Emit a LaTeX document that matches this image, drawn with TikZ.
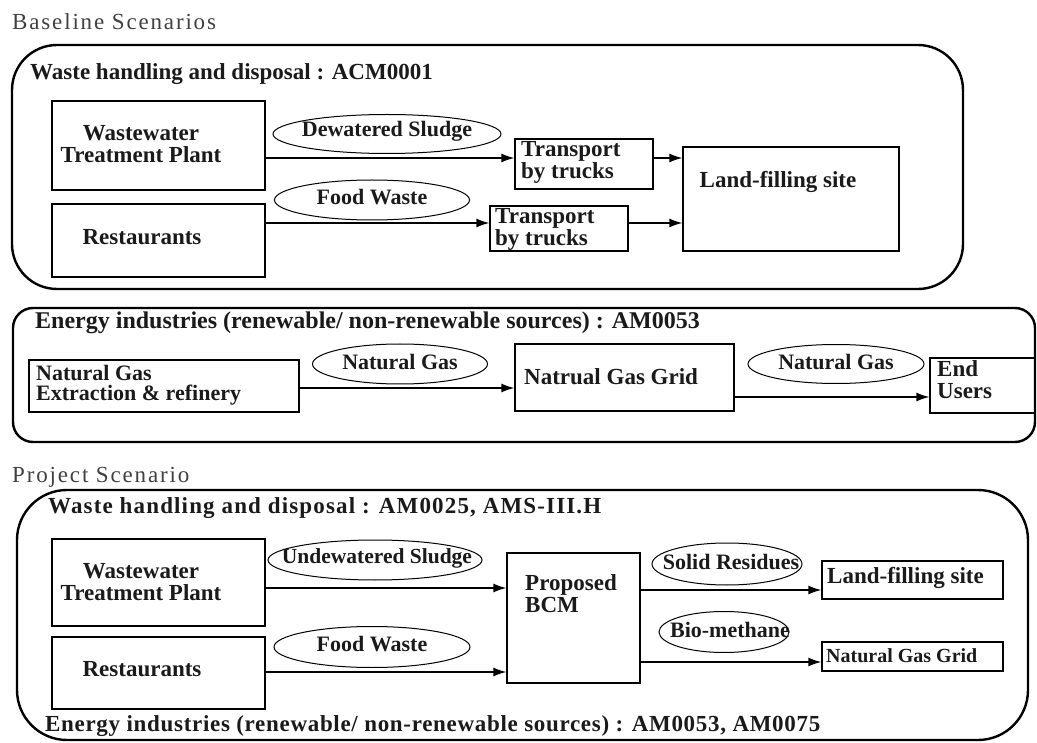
\documentclass[tikz,border=0pt]{standalone}
\usepackage{fontspec}
\setmainfont{Liberation Serif}
\usetikzlibrary{shapes.geometric,arrows.meta}

\definecolor{ink}{HTML}{1A1A1A}
\definecolor{grau}{HTML}{404040}

\tikzset{
  frame/.style={line width=2.4pt, rounded corners=#1},
  box/.style={draw, rectangle, line width=1.3pt, inner sep=0pt},
  flow/.style={draw, ellipse, line width=1pt, inner sep=0pt},
  txt/.style={inner sep=0pt, text=ink, font=\fontsize{23}{22}\selectfont\bfseries},
  lbl/.style={inner sep=0pt, text=ink, font=\fontsize{22}{22}\selectfont\bfseries},
  head/.style={txt, anchor=west},
  titel/.style={inner sep=0pt, anchor=west, text=grau,
    font=\fontsize{23}{24}\selectfont\addfontfeature{LetterSpace=8}},
  arr/.style={-{Latex[length=13pt,width=9pt]}, line width=1.3pt}
}

\begin{document}
\begin{tikzpicture}[x=1pt,y=-1pt]
\useasboundingbox (0,0) rectangle (1037,743);

% Baseline:
\node[titel] (tBase) at (12,22) {Baseline Scenarios};
\draw[frame=45pt] (12,45) rectangle (963,289); % erster Rahmen
\draw[frame=20pt] (13,308) rectangle (1035,442); % zweiter Rahmen

% Abfall:
\node[head] (hA) at (30,74) {Waste handling and disposal : ACM0001};
\node[box, minimum width=213pt, minimum height=89pt] (wtpA) at (158.5,145.5) {};
\node[txt, align=center] (wtpAt) at (141,144) {Wastewater\\Treatment Plant};
\node[box, minimum width=213pt, minimum height=73pt] (resA) at (158.5,240.5) {};
\node[txt] (resAt) at (142,237) {Restaurants};
\node[box, minimum width=138pt, minimum height=50pt] (trA) at (584,164) {};
\node[txt, anchor=west, align=left] (trAt) at (521,162) {Transport\\by trucks};
\node[box, minimum width=138pt, minimum height=45pt] (trB) at (559,228.5) {};
\node[txt, anchor=west, align=left] (trBt) at (495,229) {Transport\\by trucks};
\node[box, minimum width=216pt, minimum height=104pt] (landA) at (791,199) {};
\node[txt] (landAt) at (778,182) {Land-filling site};
\node[flow, minimum width=228pt, minimum height=39pt] (sludgeA) at (387,134) {};
\node[lbl] (sludgeAt) at (387,131) {Dewatered Sludge};
\node[flow, minimum width=195pt, minimum height=40pt] (foodA) at (372,200) {};
\node[lbl] (foodAt) at (372,197) {Food Waste};
\draw[arr] (wtpA.east |- 0,158) -- (trA.west |- 0,158);
\draw[arr] (resA.east |- 0,223) -- (trB.west |- 0,223);
\draw[arr] (trA.east |- 0,158) -- (landA.west |- 0,158);
\draw[arr] (trB.east |- 0,223) -- (landA.west |- 0,223);

% Energie:
\node[head, font=\fontsize{24}{22}\selectfont\bfseries] (hB) at (35,323) {Energy industries (renewable/ non-renewable sources) : AM0053};
\node[box, minimum width=270pt, minimum height=52pt] (ngA) at (164,386) {};
\node[txt, anchor=west, align=left, font=\fontsize{22}{20}\selectfont\bfseries] (ngAt) at (36,385) {Natural Gas\\Extraction \& refinery};
\node[box, minimum width=219pt, minimum height=67pt] (gridA) at (624.5,377.5) {};
\node[txt, anchor=west] (gridAt) at (524,377) {Natrual Gas Grid};
\node[box, minimum width=105pt, minimum height=55pt] (endA) at (982.5,385.5) {};
\node[txt, anchor=west, align=left] (endAt) at (937,380) {End\\Users};
\node[flow, minimum width=175pt, minimum height=40pt] (gasA) at (400,364) {};
\node[lbl] (gasAt) at (400,362) {Natural Gas};
\node[flow, minimum width=176pt, minimum height=39pt] (gasB) at (836,364) {};
\node[lbl] (gasBt) at (836,362) {Natural Gas};
\draw[arr] (ngA.east |- 0,388) -- (gridA.west |- 0,388);
\draw[arr] (gridA.east |- 0,397) -- (endA.west |- 0,397);

% Projekt:
\node[titel] (tProj) at (12,477) {Project Scenario};
\draw[frame=50pt] (17,490) rectangle (1028,740); % dritter Rahmen
\node[head, font=\fontsize{23}{22}\selectfont\bfseries\addfontfeature{LetterSpace=5}] (hC) at (48,508) {Waste handling and disposal : AM0025, AMS-III.H};
\node[box, minimum width=213pt, minimum height=87pt] (wtpB) at (158.5,582.5) {};
\node[txt, align=center] (wtpBt) at (141,582) {Wastewater\\Treatment Plant};
\node[box, minimum width=213pt, minimum height=72pt] (resB) at (158.5,673) {};
\node[txt] (resBt) at (142,669) {Restaurants};
\node[box, minimum width=133pt, minimum height=130pt] (bcm) at (573.5,618) {};
\node[txt, anchor=west, align=left] (bcmt) at (525,594) {Proposed\\BCM};
\node[box, minimum width=181pt, minimum height=38pt] (landB) at (912.5,580) {};
\node[txt, anchor=west] (landBt) at (827,578) {Land-filling site};
\node[box, minimum width=181pt, minimum height=29pt] (gridB) at (912.5,656.5) {};
\node[txt, anchor=west, font=\fontsize{20}{22}\selectfont\bfseries] (gridBt) at (826,656) {Natural Gas Grid};
\node[flow, minimum width=214pt, minimum height=40pt] (sludgeB) at (375,560) {};
\node[lbl, font=\fontsize{21.5}{22}\selectfont\bfseries] (sludgeBt) at (377,558) {Undewatered Sludge};
\node[flow, minimum width=196pt, minimum height=41pt] (foodB) at (372,647) {};
\node[lbl] (foodBt) at (372,644) {Food Waste};
\node[flow, minimum width=150pt, minimum height=42pt] (solid) at (727,564) {};
\node[lbl] (solidt) at (731,562) {Solid Residues};
\node[flow, minimum width=130pt, minimum height=41pt] (bio) at (724,632) {};
\node[lbl] (biot) at (730,630) {Bio-methane};
\draw[arr] (wtpB.east |- 0,588) -- (bcm.west |- 0,588);
\draw[arr] (resB.east |- 0,672) -- (bcm.west |- 0,672);
\draw[arr] (bcm.east |- 0,590) -- (landB.west |- 0,590);
\draw[arr] (bcm.east |- 0,662) -- (gridB.west |- 0,662);
\node[head, font=\fontsize{23}{22}\selectfont\bfseries\addfontfeature{LetterSpace=3}] (hD) at (45,726) {Energy industries (renewable/ non-renewable sources) : AM0053, AM0075};
\end{tikzpicture}
\end{document}
